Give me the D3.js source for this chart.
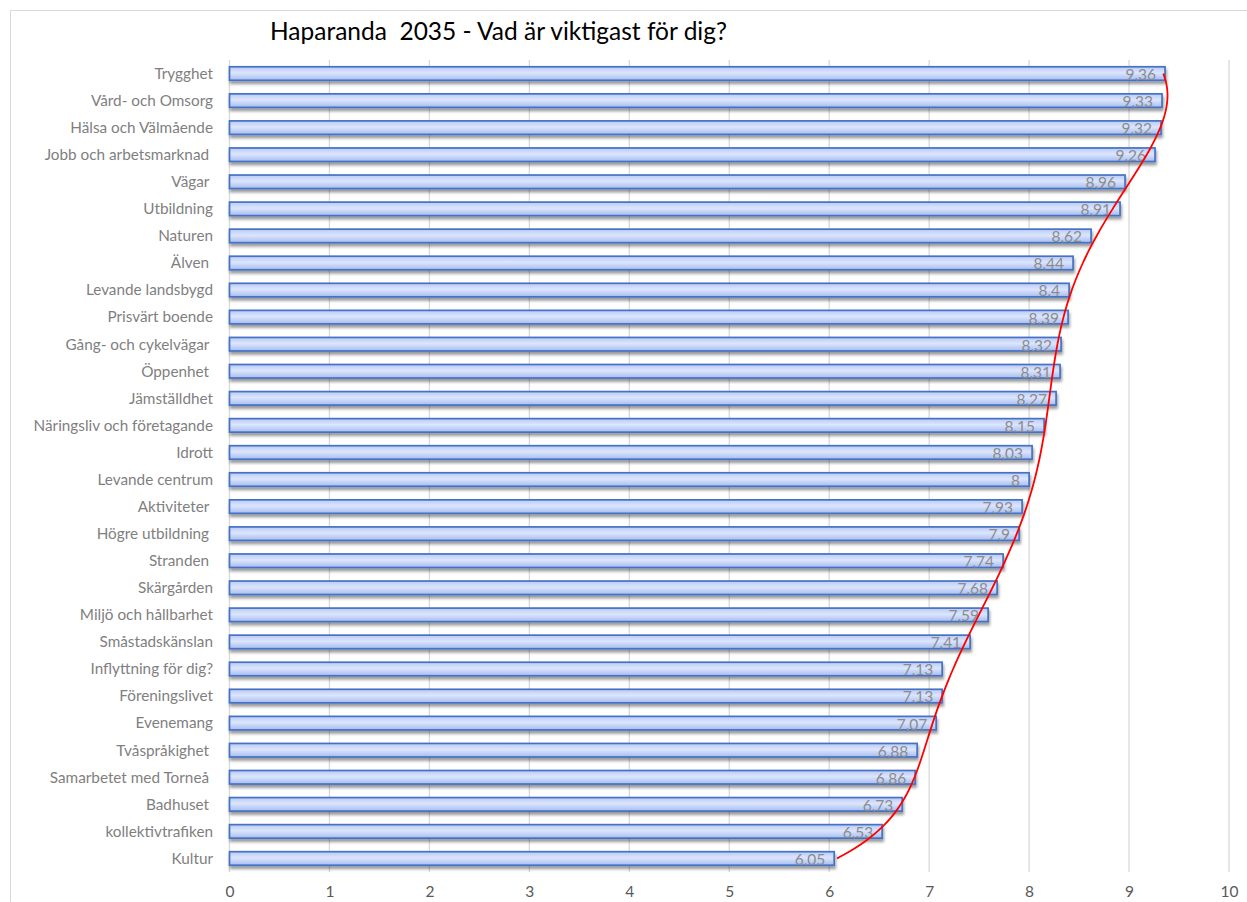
<!DOCTYPE html>
<html>
<head>
<meta charset="utf-8">
<script src="https://cdn.jsdelivr.net/npm/d3@7"></script>
<style>
  body { margin: 0; background: #fff; }
  svg { display: block; font-family: Lato, "Open Sans", sans-serif; }
</style>
</head>
<body>
<div id="chart"></div>
<script>
// ---------- data ----------
var categories = ["Trygghet", "Vård- och Omsorg", "Hälsa och Välmående", "Jobb och arbetsmarknad ",
  "Vägar ", "Utbildning", "Naturen", "Älven ", "Levande landsbygd", "Prisvärt boende",
  "Gång- och cykelvägar ", "Öppenhet ", "Jämställdhet", "Näringsliv och företagande", "Idrott",
  "Levande centrum", "Aktiviteter ", "Högre utbildning ", "Stranden ", "Skärgården",
  "Miljö och hållbarhet", "Småstadskänslan", "Inflyttning för dig?", "Föreningslivet", "Evenemang",
  "Tvåspråkighet ", "Samarbetet med Torneå ", "Badhuset ", "kollektivtrafiken", "Kultur"];
var values = [9.36, 9.33, 9.32, 9.26, 8.96, 8.91, 8.62, 8.44, 8.4, 8.39,
  8.32, 8.31, 8.27, 8.15, 8.03, 8, 7.93, 7.9, 7.74, 7.68,
  7.59, 7.41, 7.13, 7.13, 7.07, 6.88, 6.86, 6.73, 6.53, 6.05];
var xTicks = [0, 1, 2, 3, 4, 5, 6, 7, 8, 9, 10];
var title = "Haparanda  2035 - Vad är viktigast för dig?";

var W = 1247, H = 902;
var x = d3.scaleLinear().domain([0, 10]).range([229.5, 1229]);
var y = d3.scaleBand().domain(categories).range([60, 872]).paddingInner(0.5).paddingOuter(0.25);

var svg = d3.select("#chart").append("svg")
    .attr("width", W)
    .attr("height", H);

var defs = svg.append("defs");
var grad = defs.append("linearGradient")
    .attr("id", "barFill")
    .attr("x1", 0).attr("y1", 0).attr("x2", 0).attr("y2", 1);
grad.append("stop").attr("offset", "0%").attr("stop-color", "#b9caf6");
grad.append("stop").attr("offset", "45%").attr("stop-color", "#dce5fc");
grad.append("stop").attr("offset", "100%").attr("stop-color", "#a6bcf0");

var shadow = defs.append("filter").attr("id", "shadow")
    .attr("x", "-5%").attr("y", "-50%").attr("width", "110%").attr("height", "220%");
shadow.append("feDropShadow")
    .attr("dx", 1).attr("dy", 3).attr("stdDeviation", 1.4)
    .attr("flood-color", "#000").attr("flood-opacity", 0.4);

// outer border
svg.append("rect")
    .attr("x", 10.5).attr("y", 10.5)
    .attr("width", W + 20).attr("height", H + 20)
    .attr("fill", "#fff")
    .attr("stroke", "#d9d9d9");

// title
svg.append("text")
    .attr("x", 270).attr("y", 40)
    .attr("font-size", 24.5)
    .attr("fill", "#000")
    .style("white-space", "pre")
    .text(title);

//----------grid----------
svg.append("g").selectAll("line")
    .data(xTicks)
    .join("line")
    .attr("x1", function (d) { return x(d); })
    .attr("x2", function (d) { return x(d); })
    .attr("y1", 60).attr("y2", 872)
    .attr("stroke", "#d9d9d9")
    .attr("stroke-width", 1.3);

var xAxis = d3.axisBottom(x).tickValues(xTicks).tickSize(0).tickPadding(0);
svg.append("g")
    .attr("transform", "translate(0,886)")
    .call(xAxis)
    .call(function (g) {
        g.select(".domain").remove();
        g.selectAll("text")
            .attr("dy", "0.71em")
            .attr("font-size", 15.5)
            .attr("font-family", "Lato, sans-serif")
            .attr("fill", "#595959");
    });

//----------bars----------
svg.append("g").selectAll("rect")
    .data(values)
    .join("rect")
    .attr("x", x(0))
    .attr("y", function (d, i) { return y(categories[i]); })
    .attr("width", function (d) { return x(d) - x(0); })
    .attr("height", y.bandwidth())
    .attr("fill", "url(#barFill)")
    .attr("stroke", "#4472c4")
    .attr("stroke-width", 1.7)
    .attr("filter", "url(#shadow)");

// category labels
svg.append("g").selectAll("text")
    .data(categories)
    .join("text")
    .attr("x", 213)
    .attr("y", function (d) { return y(d) + y.bandwidth() / 2; })
    .attr("dy", "0.35em")
    .attr("text-anchor", "end")
    .attr("font-size", 15.3)
    .attr("fill", "#7f7f7f")
    .style("white-space", "pre")
    .text(function (d) { return d; });

// value labels
svg.append("g").selectAll("text")
    .data(values)
    .join("text")
    .attr("x", function (d) { return x(d) - 9; })
    .attr("y", function (d, i) { return y(categories[i]) + y.bandwidth() / 2 + 1; })
    .attr("dy", "0.35em")
    .attr("text-anchor", "end")
    .attr("font-size", 15.5)
    .attr("fill", "#8c8c8c")
    .text(function (d) { return String(d).replace(".", ","); });

//----------trend (polynomial least squares on the values)----------
function polyfit(xs, ys, deg) {
    var n = deg + 1, A = [], b = [];
    for (var r = 0; r < n; r++) {
        A.push([]);
        for (var c = 0; c < n; c++) {
            A[r].push(d3.sum(xs, function (v) { return Math.pow(v, r + c); }));
        }
        b.push(d3.sum(xs, function (v, k) { return ys[k] * Math.pow(v, r); }));
    }
    for (var p = 0; p < n; p++) {
        for (var q = p + 1; q < n; q++) {
            var f = A[q][p] / A[p][p];
            for (var c2 = p; c2 < n; c2++) A[q][c2] -= f * A[p][c2];
            b[q] -= f * b[p];
        }
    }
    var coef = new Array(n);
    for (var i = n - 1; i >= 0; i--) {
        var s = b[i];
        for (var j = i + 1; j < n; j++) s -= A[i][j] * coef[j];
        coef[i] = s / A[i][i];
    }
    return coef;
}
var idx = values.map(function (d, i) { return (i - 14.5) / 14.5; });
var coef = polyfit(idx, values, 7);
var trendPts = d3.range(0, 29.01, 0.25).map(function (t) {
    var u = (t - 14.5) / 14.5;
    var v = d3.sum(coef, function (c, k) { return c * Math.pow(u, k); });
    return [x(v), y(categories[0]) + y.bandwidth() / 2 + t * y.step()];
});
svg.append("path")
    .datum(trendPts)
    .attr("fill", "none")
    .attr("stroke", "#ff0000")
    .attr("stroke-width", 1.8)
    .attr("d", d3.line().curve(d3.curveBasis));
</script>
</body>
</html>
